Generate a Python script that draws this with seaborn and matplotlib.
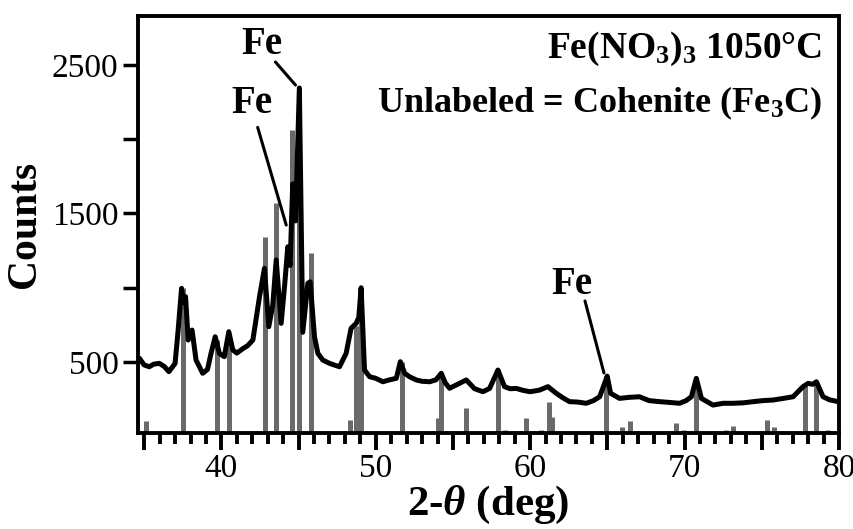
import numpy as np
import pandas as pd
import matplotlib
matplotlib.use("Agg")
import matplotlib.pyplot as plt
import seaborn as sns
from matplotlib.ticker import MultipleLocator, FixedLocator, NullFormatter, FuncFormatter

# ---- measured XRD pattern (2-theta in deg, counts) ----
two_theta = [34.6, 34.69, 35.0, 35.33, 35.6, 35.97, 36.3, 36.6, 37.0, 37.2, 37.42, 37.55, 37.68, 37.85,
             38.1, 38.36, 38.79, 39.1, 39.33, 39.6, 39.87, 40.19, 40.48, 40.74, 41.0, 41.39, 41.7, 42.04,
             42.47, 42.79, 43.07, 43.33, 43.55, 43.87, 44.09, 44.3, 44.45, 44.62, 44.8, 45.05, 45.27,
             45.6, 45.75, 46.03, 46.25, 46.57, 47.0, 47.3, 47.65, 48.08, 48.4, 48.73, 48.9, 49.05,
             49.27, 49.6, 50.0, 50.46, 50.9, 51.33, 51.59, 51.87, 52.2, 52.62, 53.0, 53.49, 53.9,
             54.24, 54.5, 54.78, 55.3, 55.86, 56.4, 56.94, 57.37, 57.91, 58.34, 58.7, 59.1, 59.5,
             59.97, 60.3, 60.61, 61.15, 61.69, 62.1, 62.55, 63.1, 63.63, 64.1, 64.5, 64.82, 64.99,
             65.21, 65.79, 66.4, 67.08, 67.7, 68.38, 69.0, 69.68, 70.1, 70.44, 70.76, 71.09, 71.84,
             72.5, 73.14, 73.8, 74.44, 75.1, 75.73, 76.4, 77.03, 77.67, 78.0, 78.3, 78.54, 78.97,
             79.4, 79.95]
counts = [520, 525, 480, 468, 485, 491, 470, 435, 490, 715, 996, 900, 940, 648,
          715, 513, 424, 450, 558, 670, 558, 536, 704, 581, 560, 590, 610, 648,
          940, 1131, 738, 884, 1187, 760, 1007, 1276, 1150, 1700, 1450, 2345, 700,
          1030, 1040, 670, 558, 513, 491, 480, 468, 558, 727, 760, 800, 1000,
          446, 401, 390, 367, 380, 390, 502, 424, 400, 379, 370, 367, 380,
          424, 360, 323, 350, 379, 320, 300, 322, 446, 334, 320, 322, 310,
          300, 305, 311, 334, 289, 260, 233, 230, 222, 240, 266, 356, 405,
          289, 255, 262, 266, 240, 233, 228, 222, 240, 266, 390, 255, 210,
          222, 222, 225, 233, 240, 244, 255, 266, 334, 356, 350, 367, 266,
          245, 233]

# ---- reference stick pattern (Cohenite Fe3C and Fe) ----
stick_pos = [35.15, 37.5, 39.7, 40.5, 42.84, 43.55, 44.6, 45.0, 45.8, 48.35, 48.7, 49.05, 51.7,
             54.05, 54.24, 55.86, 57.91, 58.34, 59.75, 60.72, 61.19, 61.43, 64.93, 65.94,
             66.48, 69.47, 69.94, 70.76, 72.7, 73.14, 75.34, 75.77, 77.78, 78.54, 79.29]
stick_height = [100, 1000, 650, 690, 1340, 1570, 2060, 2345, 1235, 110, 740, 1000, 500,
                120, 424, 188, 450, 42, 121, 42, 233, 132, 405, 64,
                105, 91, 42, 395, 42, 69, 109, 64, 340, 360, 42]

x_tick_labels = [40, 50, 60, 70, 80]
x_ticks_long = [35, 40, 45, 50, 55, 60, 65, 70, 75, 80]
y_ticks_major = [500, 1500, 2500]
y_ticks_minor = [1000, 2000]

sns.set_theme(style="ticks")
plt.rcParams['font.family'] = ['Liberation Serif', 'DejaVu Serif']
plt.rcParams['text.color'] = 'black'
plt.rcParams['axes.labelcolor'] = 'black'
plt.rcParams['xtick.color'] = 'black'
plt.rcParams['ytick.color'] = 'black'
plt.rcParams['mathtext.fontset'] = 'custom'
plt.rcParams['mathtext.rm'] = 'Liberation Serif:bold'
plt.rcParams['mathtext.bf'] = 'Liberation Serif:bold'
plt.rcParams['mathtext.it'] = 'Liberation Serif:bold:italic'
plt.rcParams['mathtext.default'] = 'rm'

fig = plt.figure(figsize=(8.54, 5.29), dpi=100)
ax = fig.add_axes([0.1616, 0.1815, 0.8208, 0.7883])

ax.vlines(stick_pos, 0, stick_height, colors='#6a6a6a', linewidth=3.6, zorder=1)

df = pd.DataFrame({"two_theta": two_theta, "counts": counts})
sns.lineplot(data=df, x="two_theta", y="counts", color='black', linewidth=3.6,
             estimator=None, sort=True, ax=ax, zorder=2)

ax.set_xlim(34.6, 80)
ax.set_ylim(22, 2830)

ax.xaxis.set_major_locator(FixedLocator(x_ticks_long))
ax.xaxis.set_major_formatter(FuncFormatter(
    lambda v, p: f"{int(round(v))}" if int(round(v)) in x_tick_labels else ""))
ax.xaxis.set_minor_locator(MultipleLocator(1))
ax.yaxis.set_major_locator(FixedLocator(y_ticks_major))
ax.yaxis.set_minor_locator(FixedLocator(y_ticks_minor))
ax.yaxis.set_minor_formatter(NullFormatter())

ax.tick_params(axis='x', which='minor', direction='out', length=8, width=2.8)
ax.tick_params(axis='x', which='major', direction='out', length=12, width=2.8,
               labelsize=24, pad=3)
ax.tick_params(axis='y', which='both', direction='out', length=11, width=2.5,
               labelsize=24, pad=3)

for s in ax.spines.values():
    s.set_linewidth(2.8)
    s.set_color('black')

ax.set_xlabel(r"2-$\mathit{\theta}$ (deg)", fontsize=31, fontweight='bold', labelpad=0)
ax.set_ylabel("Counts", fontsize=30, fontweight='bold', labelpad=6)

ax.text(78.9, 2547, r"Fe(NO$_3$)$_3$ 1050°C", fontsize=27, fontweight='bold',
        ha='right', va='baseline')
ax.text(78.9, 2183, r"Unlabeled = Cohenite (Fe$_3$C)", fontsize=26, fontweight='bold',
        ha='right', va='baseline')

ax.text(42.65, 2635, "Fe", fontsize=28, fontweight='bold', ha='center', va='center')
ax.plot([43.5, 44.8], [2520, 2365], color='black', linewidth=2.2)
ax.text(41.95, 2244, "Fe", fontsize=28, fontweight='bold', ha='center', va='center')
ax.plot([42.35, 44.2], [2080, 1422], color='black', linewidth=2.2)
ax.text(62.7, 1025, "Fe", fontsize=28, fontweight='bold', ha='center', va='center')
ax.plot([63.55, 64.78], [911, 426], color='black', linewidth=2.2)

fig.savefig("out.png", dpi=100)
